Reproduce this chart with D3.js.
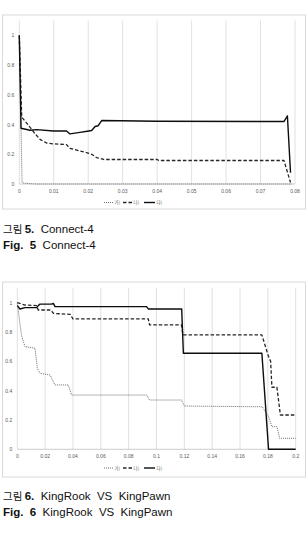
<html>
<head>
<meta charset="utf-8">
<script src="https://d3js.org/d3.v7.min.js"></script>
<style>
    body { margin: 0; background: #fff; }
    .tick-label { font-family: "Liberation Sans", Arial, sans-serif; font-size: 5px; fill: #595959; }
    .legend-label { font-family: "Noto Sans CJK KR", sans-serif; font-size: 4.5px; fill: #595959; }
    .caption { font-family: "Liberation Sans", Arial, "Noto Sans CJK KR", sans-serif; font-size: 11.5px; fill: #111; }
</style>
</head>
<body>
<svg id="figure" width="307" height="545"></svg>
<script>
    // series names (legend)
    const seriesNames = ["가)", "나)", "다)"];
    const yTicks = [0, 0.2, 0.4, 0.6, 0.8, 1];

    // Fig. 5 Connect-4
    const connectTicks = [0, 0.01, 0.02, 0.03, 0.04, 0.05, 0.06, 0.07, 0.08];
    const connectA = [[0, 1], [0.0008, 0.01], [0.0015, 0.005], [0.005, 0], [0.079, 0]];
    const connectB = [[0, 1], [0.0007, 0.45], [0.0025, 0.40], [0.0045, 0.34], [0.0060, 0.30],
        [0.008, 0.275], [0.01, 0.27], [0.0137, 0.265], [0.0147, 0.24], [0.0176, 0.222],
        [0.0197, 0.21], [0.021, 0.20], [0.0224, 0.178], [0.0245, 0.165], [0.04, 0.165],
        [0.0405, 0.158], [0.0768, 0.158], [0.0787, 0.01]];
    const connectC = [[0, 1], [0.0005, 0.375], [0.0031, 0.362], [0.005, 0.366], [0.0099, 0.357],
        [0.0137, 0.357], [0.0147, 0.337], [0.0176, 0.347], [0.0197, 0.355], [0.021, 0.36],
        [0.022, 0.387], [0.0229, 0.392], [0.0239, 0.427], [0.04, 0.422], [0.0768, 0.42],
        [0.0778, 0.458], [0.0787, 0.076]];

    // Fig. 6 KingRook VS KingPawn
    const krTicks = [0, 0.02, 0.04, 0.06, 0.08, 0.1, 0.12, 0.14, 0.16, 0.18, 0.2];
    const krA = [[0, 1], [0.0014, 0.893], [0.003, 0.78], [0.0055, 0.70], [0.0127, 0.689],
        [0.0144, 0.552], [0.0163, 0.518], [0.0235, 0.507], [0.027, 0.439], [0.0366, 0.439],
        [0.039, 0.37], [0.093, 0.37], [0.095, 0.336], [0.118, 0.336], [0.12, 0.295],
        [0.176, 0.29], [0.1805, 0.222], [0.183, 0.154], [0.1865, 0.154], [0.1885, 0.075],
        [0.2, 0.075]];
    const krB = [[0, 1], [0.0055, 0.984], [0.0139, 0.98], [0.015, 0.95], [0.024, 0.95],
        [0.026, 0.927], [0.038, 0.92], [0.04, 0.889], [0.0941, 0.889], [0.095, 0.848],
        [0.118, 0.848], [0.119, 0.78], [0.1757, 0.78], [0.1805, 0.632], [0.182, 0.60],
        [0.1829, 0.423], [0.1865, 0.423], [0.189, 0.234], [0.2, 0.234]];
    const krC = [[0, 0.98], [0.0019, 0.957], [0.0055, 0.966], [0.0139, 0.966], [0.0151, 0.98],
        [0.0163, 0.99], [0.0247, 0.99], [0.0259, 0.995], [0.0271, 0.973], [0.0929, 0.973],
        [0.0941, 0.957], [0.1181, 0.957], [0.1193, 0.655], [0.1757, 0.655], [0.1805, 0],
        [0.2, 0]];

    const lineStyles = [
        {stroke: "#6f6f6f", width: 1, dash: "1,1"},
        {stroke: "#262626", width: 1.3, dash: "3.5,2"},
        {stroke: "#0d0d0d", width: 1.4, dash: null}
    ];

    const svg = d3.select("#figure");

    function drawChart(opt) {
        const g = svg.append("g");

        // outer frame
        g.append("rect")
            .attr("x", opt.frame[0]).attr("y", opt.frame[1])
            .attr("width", opt.frame[2]).attr("height", opt.frame[3])
            .attr("fill", "#fff").attr("stroke", "#d9d9d9").attr("stroke-width", 1);

        const x = d3.scaleLinear().domain([0, opt.xMax]).range([opt.left, opt.right]);
        const y = d3.scaleLinear().domain([0, 1.1]).range([opt.bottom, opt.top]);

        // vertical gridlines
        g.selectAll("line.grid").data(opt.xTicks).join("line")
            .attr("class", "grid")
            .attr("x1", d => x(d)).attr("x2", d => x(d))
            .attr("y1", y(1.1)).attr("y2", y(0))
            .attr("stroke", "#d9d9d9").attr("stroke-width", 0.8);

        // horizontal axis line
        g.append("line")
            .attr("x1", x(0)).attr("x2", x(opt.xMax))
            .attr("y1", y(0)).attr("y2", y(0))
            .attr("stroke", "#bfbfbf").attr("stroke-width", 0.8);

        g.selectAll("text.xlab").data(opt.xTicks).join("text")
            .attr("class", "tick-label")
            .attr("x", d => x(d)).attr("y", y(0) + 9)
            .attr("text-anchor", "middle")
            .text(d => d3.format("~g")(d));

        g.selectAll("text.ylab").data(yTicks).join("text")
            .attr("class", "tick-label")
            .attr("x", x(0) - 5).attr("y", d => y(d) + 2)
            .attr("text-anchor", "end")
            .text(d => d3.format("~g")(d));

        const line = d3.line().x(d => x(d[0])).y(d => y(d[1]));
        opt.series.forEach((s, i) => {
            const st = lineStyles[i];
            g.append("path").datum(s)
                .attr("fill", "none")
                .attr("stroke", st.stroke)
                .attr("stroke-width", st.width)
                .attr("stroke-dasharray", st.dash)
                .attr("stroke-linejoin", "round")
                .attr("d", line);
        });

        // legend
        const legendX = [104, 123, 144];
        const legendLen = [9, 9, 11];
        seriesNames.forEach((name, i) => {
            const st = lineStyles[i];
            g.append("line")
                .attr("x1", legendX[i]).attr("x2", legendX[i] + legendLen[i])
                .attr("y1", opt.legendY).attr("y2", opt.legendY)
                .attr("stroke", st.stroke).attr("stroke-width", st.width)
                .attr("stroke-dasharray", st.dash);
            g.append("text")
                .attr("class", "legend-label")
                .attr("x", legendX[i] + legendLen[i] + 1.5).attr("y", opt.legendY + 1.7)
                .text(name);
        });

        // caption
        const c1 = svg.append("text").attr("class", "caption")
            .attr("x", 3).attr("y", opt.captionY).attr("xml:space", "preserve");
        c1.append("tspan").attr("font-family", "Noto Sans CJK KR").attr("font-size", 10.5).text("그림 ");
        c1.append("tspan").attr("font-weight", "bold").text(opt.num + ".");
        c1.append("tspan").text("  " + opt.title);

        const c2 = svg.append("text").attr("class", "caption")
            .attr("x", 3).attr("y", opt.captionY + 16).attr("xml:space", "preserve");
        c2.append("tspan").attr("font-weight", "bold").text("Fig.  " + opt.num);
        c2.append("tspan").text("  " + opt.title);
    }

    drawChart({
        frame: [2.5, 15, 303, 194],
        left: 19.3, right: 295, top: 20.5, bottom: 184,
        xMax: 0.08, xTicks: connectTicks,
        series: [connectA, connectB, connectC],
        legendY: 202.5, captionY: 233, num: 5, title: "Connect-4"
    });

    drawChart({
        frame: [2.5, 282, 303, 195],
        left: 17.3, right: 295.7, top: 288, bottom: 449.3,
        xMax: 0.2, xTicks: krTicks,
        series: [krA, krB, krC],
        legendY: 468, captionY: 500, num: 6, title: "KingRook  VS  KingPawn"
    });
</script>
</body>
</html>
